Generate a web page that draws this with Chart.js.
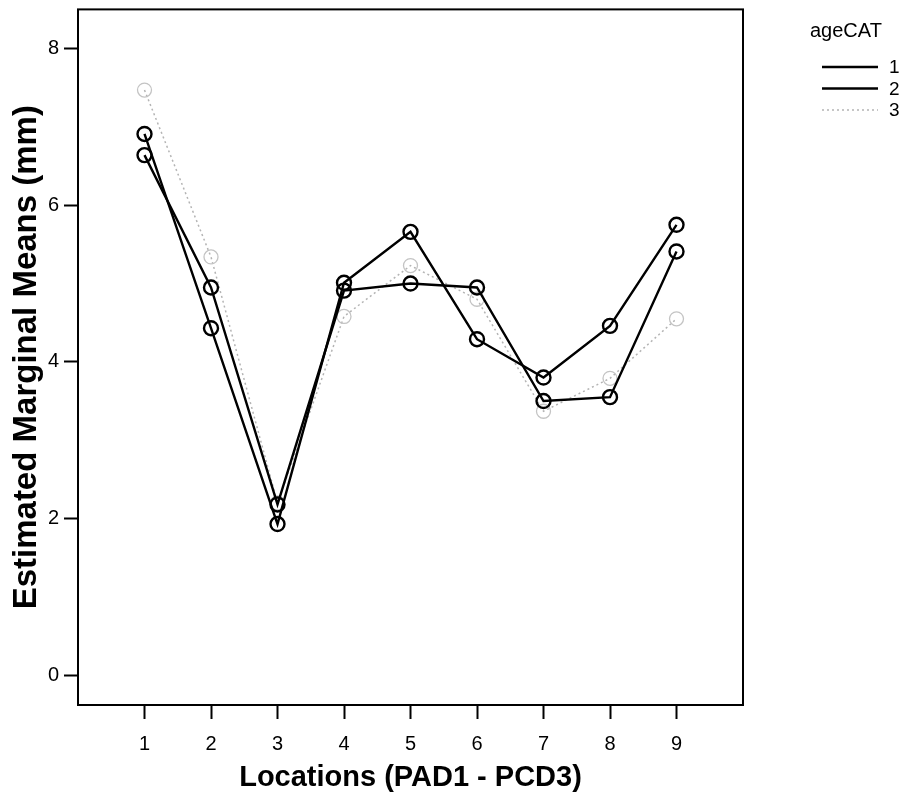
<!DOCTYPE html>
<html>
<head>
<meta charset="utf-8">
<script src="https://cdn.jsdelivr.net/npm/chart.js@4/dist/chart.umd.min.js"></script>
<style>
  html, body { margin: 0; padding: 0; background: #fff; }
  #wrap { width: 905px; height: 796px; }
</style>
</head>
<body>
<div id="wrap"><canvas id="meansChart" width="905" height="796"></canvas></div>
<script>
// locations on the x axis
const locations = [1, 2, 3, 4, 5, 6, 7, 8, 9];
const seriesNames = ['1', '2', '3'];
// estimated marginal means per age category
const age1 = [6.64, 4.95, 2.18, 4.91, 5.00, 4.95, 3.50, 3.55, 5.41];
const age2 = [6.91, 4.43, 1.93, 5.01, 5.66, 4.29, 3.80, 4.46, 5.75];
const age3 = [7.47, 5.34, 2.20, 4.58, 5.23, 4.80, 3.37, 3.79, 4.55];
const yTicks = [0, 2, 4, 6, 8];

const FONT = "'Liberation Sans', Arial, sans-serif";

function toPoints(arr) {
    return arr.map((v, i) => ({ x: locations[i], y: v }));
}

// frame around the plot area (all four sides)
const frame = {
    id: 'frame',
    afterDatasetsDraw(chart) {
        const a = chart.chartArea;
        const ctx = chart.ctx;
        ctx.save();
        ctx.strokeStyle = '#000';
        ctx.lineWidth = 2;
        ctx.strokeRect(a.left, a.top, a.right - a.left, a.bottom - a.top);
        ctx.restore();
    }
};

// legend at the upper right, outside the plot
const sideLegend = {
    id: 'sideLegend',
    afterDraw(chart) {
        const ctx = chart.ctx;
        ctx.save();
        ctx.fillStyle = '#000';
        ctx.font = '20px ' + FONT;
        ctx.textBaseline = 'middle';
        ctx.textAlign = 'left';
        ctx.fillText('ageCAT', 810, 31);
        chart.data.datasets.forEach((ds, i) => {
            const y = 67 + i * 21.5;
            ctx.beginPath();
            ctx.strokeStyle = ds.borderColor;
            ctx.lineWidth = ds.borderWidth;
            ctx.setLineDash(ds.borderDash || []);
            ctx.moveTo(822, y);
            ctx.lineTo(878, y);
            ctx.stroke();
            ctx.setLineDash([]);
            ctx.fillStyle = '#000';
            ctx.font = '19px ' + FONT;
            ctx.fillText(ds.label, 889, y + 1);
        });
        ctx.restore();
    }
};

const ctx = document.getElementById('meansChart').getContext('2d');
new Chart(ctx, {
    type: 'line',
    data: {
        datasets: [
            {
                label: seriesNames[0],
                data: toPoints(age1),
                borderColor: '#000',
                borderWidth: 2.4,
                pointStyle: 'circle',
                pointRadius: 7,
                pointBorderWidth: 2.4,
                pointBorderColor: '#000',
                pointBackgroundColor: 'rgba(0,0,0,0)',
                tension: 0
            },
            {
                label: seriesNames[1],
                data: toPoints(age2),
                borderColor: '#000',
                borderWidth: 2.4,
                pointStyle: 'circle',
                pointRadius: 7,
                pointBorderWidth: 2.4,
                pointBorderColor: '#000',
                pointBackgroundColor: 'rgba(0,0,0,0)',
                tension: 0
            },
            {
                label: seriesNames[2],
                data: toPoints(age3),
                borderColor: '#b4b4b4',
                borderWidth: 1.5,
                borderDash: [2, 3],
                pointStyle: 'circle',
                pointRadius: 7,
                pointBorderWidth: 1.3,
                pointBorderColor: '#c4c4c4',
                pointBackgroundColor: 'rgba(0,0,0,0)',
                tension: 0
            }
        ]
    },
    options: {
        responsive: false,
        animation: false,
        layout: {
            padding: { top: 9, right: 162, left: 0, bottom: 0 }
        },
        scales: {
            x: {
                type: 'linear',
                min: 0,
                max: 10,
                afterBuildTicks: (axis) => {
                    axis.ticks = locations.map(v => ({ value: v }));
                },
                afterFit: (axis) => { axis.height = 91; },
                border: { display: false },
                grid: {
                    drawOnChartArea: false,
                    drawTicks: true,
                    tickLength: 14,
                    tickWidth: 2,
                    tickColor: '#000'
                },
                ticks: {
                    color: '#000',
                    padding: 13,
                    maxRotation: 0,
                    font: { family: FONT, size: 20 }
                },
                title: {
                    display: true,
                    text: 'Locations (PAD1 - PCD3)',
                    color: '#000',
                    padding: { top: 0, bottom: 1 },
                    font: { family: FONT, size: 29, weight: 'bold' }
                }
            },
            y: {
                type: 'linear',
                min: -0.38,
                max: 8.5,
                afterBuildTicks: (axis) => {
                    axis.ticks = yTicks.map(v => ({ value: v }));
                },
                afterFit: (axis) => {
                    axis.width = 78;
                    // labels sit well inside the range, so no extra room is needed
                    axis.paddingTop = 0;
                    axis.paddingBottom = 0;
                },
                border: { display: false },
                grid: {
                    drawOnChartArea: false,
                    drawTicks: true,
                    tickLength: 14,
                    tickWidth: 2,
                    tickColor: '#000'
                },
                ticks: {
                    color: '#000',
                    padding: 5,
                    font: { family: FONT, size: 20 }
                },
                title: {
                    display: true,
                    text: 'Estimated Marginal Means (mm)',
                    color: '#000',
                    padding: { top: 7, bottom: 0 },
                    font: { family: FONT, size: 33, weight: 'bold' }
                }
            }
        },
        plugins: {
            legend: { display: false },
            tooltip: { enabled: false }
        }
    },
    plugins: [frame, sideLegend]
});
</script>
</body>
</html>
